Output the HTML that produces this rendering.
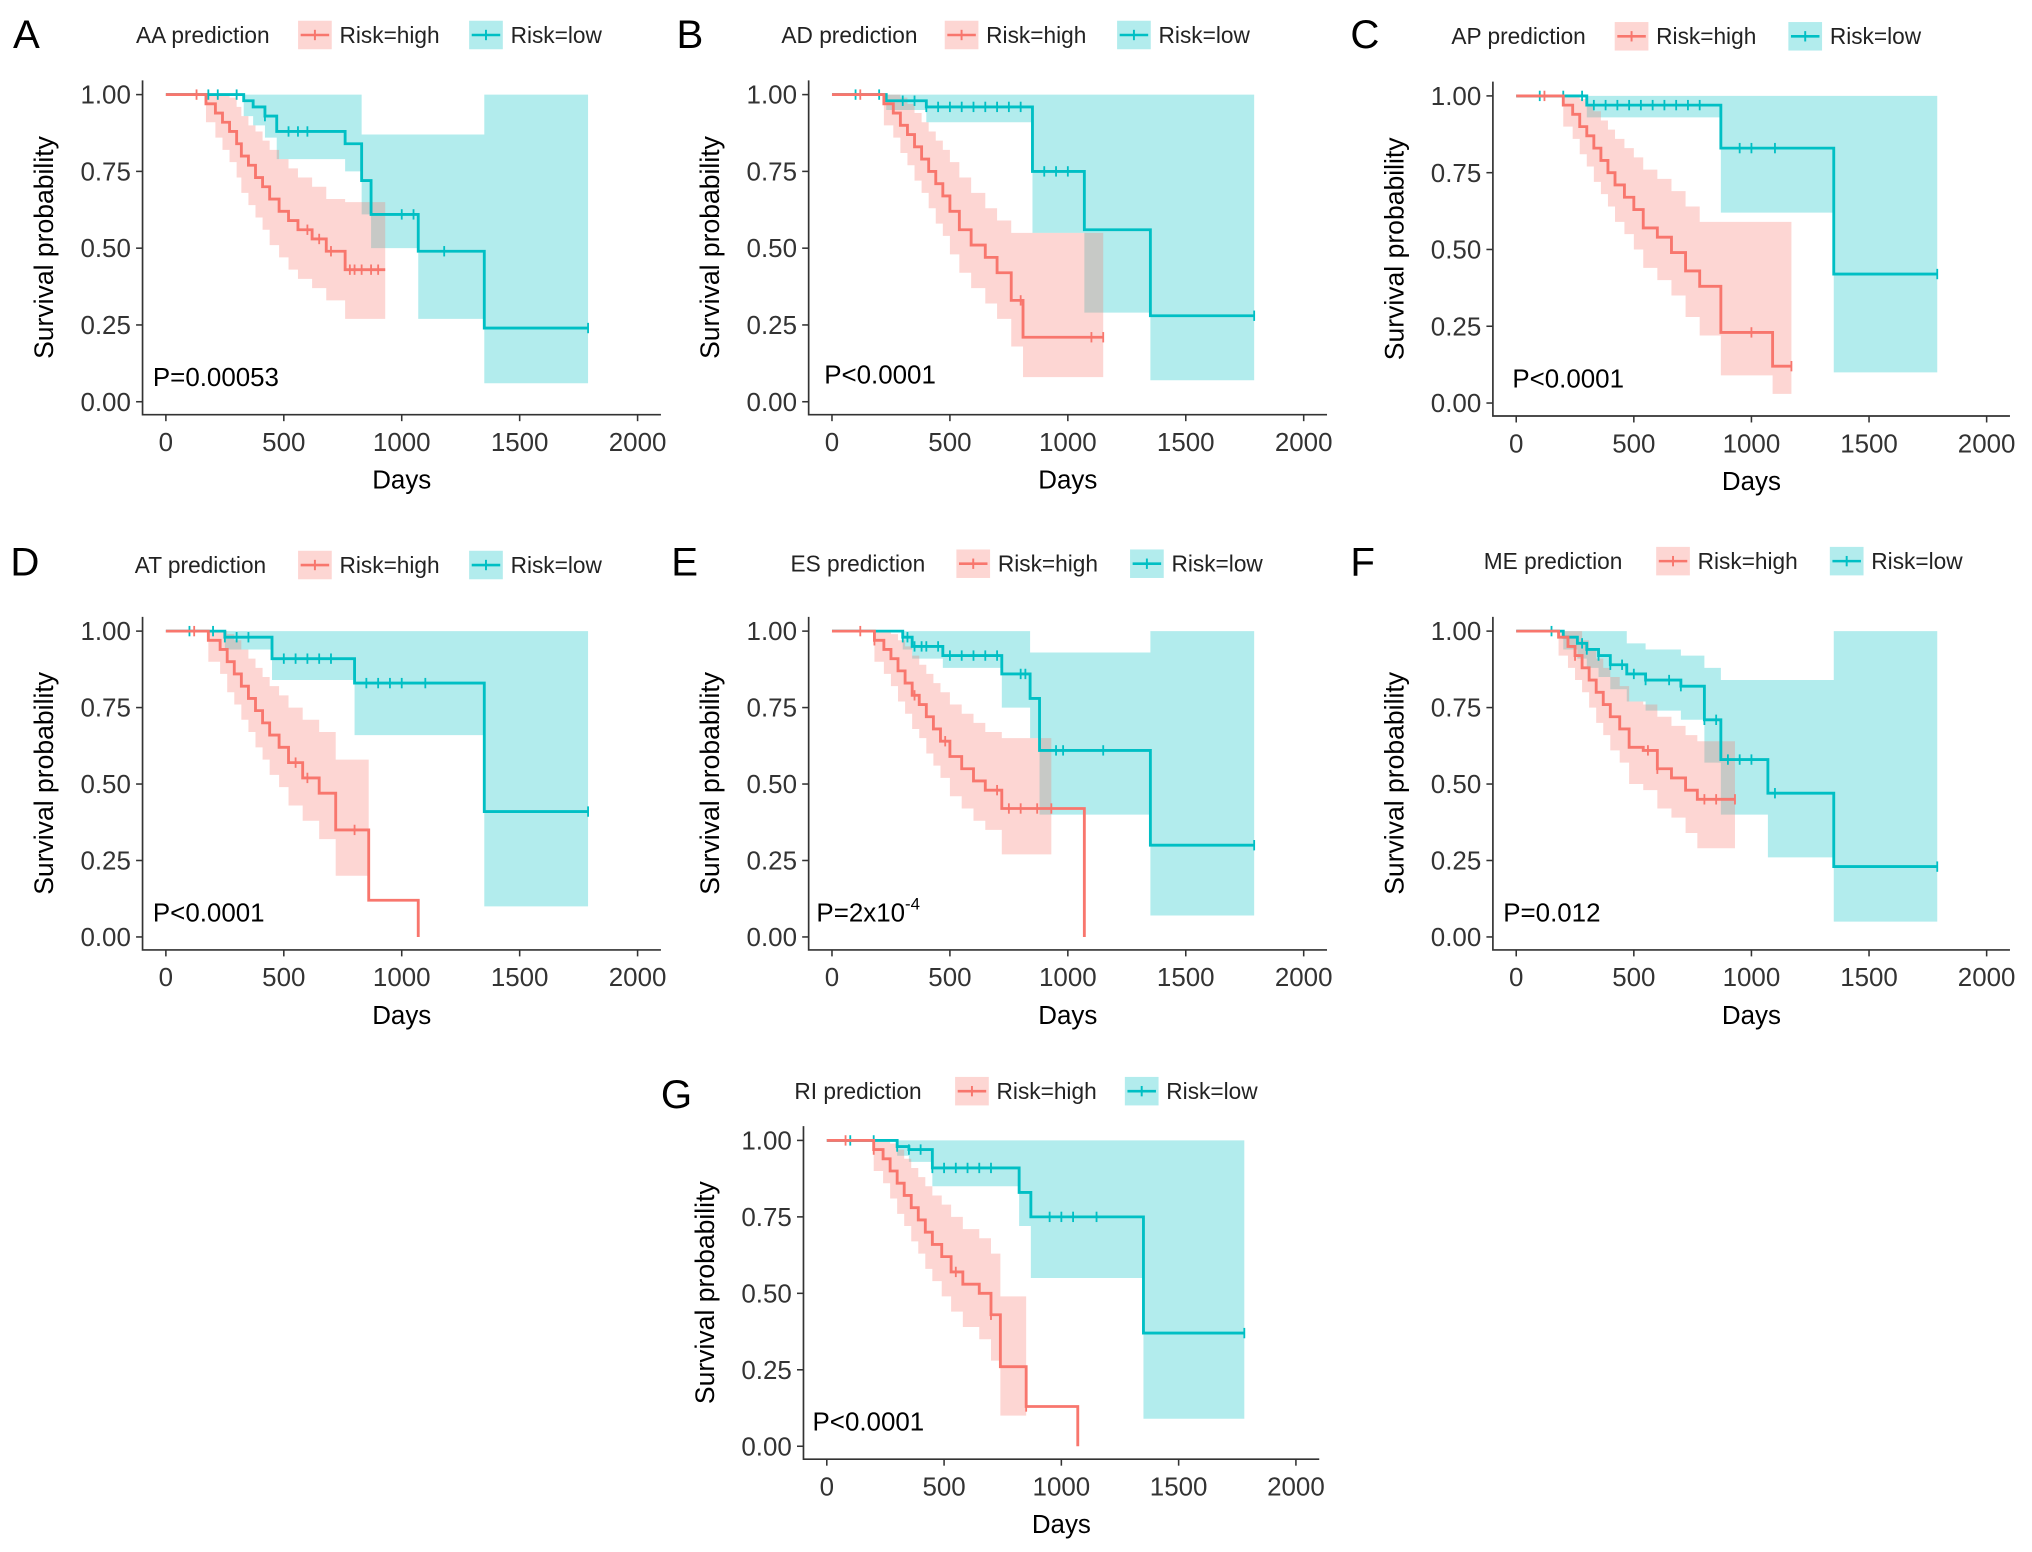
<!DOCTYPE html>
<html><head><meta charset="utf-8"><style>
html,body{margin:0;padding:0;background:#fff}
svg{display:block}
text{font-family:"Liberation Sans",sans-serif}
</style></head><body>
<svg id="fig" width="2032" height="1552" viewBox="0 0 1568 1197.6" xmlns="http://www.w3.org/2000/svg"></svg>
<script>
// ---------- data ----------
const aHighT=[0,170,210,240,270,300,320,350,380,410,440,480,520,560,620,680,760];
const aHighS=[1,.97,.94,.91,.88,.84,.8,.77,.73,.7,.66,.62,.59,.56,.53,.49,.43];
const aHighLo=[1,.91,.86,.82,.78,.73,.68,.64,.6,.56,.51,.47,.43,.4,.37,.33,.27];
const aHighHi=[1,1,1,1,.99,.96,.93,.9,.88,.85,.82,.79,.76,.73,.7,.66,.65];
const aHighC=[130,600,650,700,780,800,830,870,900];
const aLowT=[0,330,370,420,470,760,830,870,1070,1350];
const aLowS=[1,.98,.96,.93,.88,.84,.72,.61,.49,.24];
const aLowLo=[1,.93,.9,.86,.79,.75,.61,.5,.27,.06];
const aLowHi=[1,1,1,1,1,1,.87,.87,.87,1];
const aLowC=[180,220,300,420,520,560,600,1000,1050,1180,1790];

const bHighT=[0,220,260,290,320,350,380,410,440,470,500,540,590,650,700,760,810];
const bHighS=[1,.97,.94,.9,.87,.83,.79,.75,.71,.67,.62,.56,.51,.47,.42,.33,.21];
const bHighLo=[1,.9,.86,.81,.77,.72,.68,.63,.58,.54,.48,.42,.37,.32,.27,.18,.08];
const bHighHi=[1,1,1,.99,.97,.94,.91,.88,.85,.82,.78,.73,.68,.63,.59,.55,.55];
const bHighC=[120,800,1100,1150];
const bLowT=[0,230,400,850,1070,1350];
const bLowS=[1,.98,.96,.75,.56,.28];
const bLowLo=[1,.95,.91,.55,.29,.07];
const bLowHi=[1,1,1,1,1,1];
const bLowC=[100,200,300,350,400,450,500,550,600,650,700,750,800,900,950,1000,1790];

const cHighT=[0,200,240,270,300,330,360,390,420,460,500,540,600,660,720,780,870,1090];
const cHighS=[1,.97,.94,.9,.87,.83,.79,.75,.71,.67,.63,.57,.54,.49,.43,.38,.23,.12];
const cHighLo=[1,.9,.86,.81,.77,.72,.68,.64,.59,.55,.5,.44,.4,.35,.28,.22,.09,.03];
const cHighHi=[1,1,1,.99,.97,.95,.92,.89,.86,.83,.8,.76,.73,.69,.64,.59,.59,.59];
const cHighC=[120,1000,1170];
const cLowT=[0,300,870,1350];
const cLowS=[1,.97,.83,.42];
const cLowLo=[1,.93,.62,.1];
const cLowHi=[1,1,1,1];
const cLowC=[100,200,280,330,380,430,480,530,580,630,680,730,780,950,1000,1100,1790];

const dHighT=[0,180,230,260,290,320,350,380,410,440,480,520,580,650,720,860,1070];
const dHighS=[1,.97,.94,.9,.86,.82,.78,.74,.7,.66,.62,.57,.52,.47,.35,.12,0];
const dHighLo=[1,.9,.86,.8,.76,.71,.67,.62,.58,.53,.49,.43,.38,.32,.2,.12,0];
const dHighHi=[1,1,1,.99,.97,.94,.91,.88,.85,.82,.79,.75,.71,.67,.58,.12,0];
const dHighC=[120,550,600,800];
const dLowT=[0,250,450,800,1350];
const dLowS=[1,.98,.91,.83,.41];
const dLowLo=[1,.94,.84,.66,.1];
const dLowHi=[1,1,1,1,1];
const dLowC=[100,200,250,300,350,500,550,600,650,700,850,900,950,1000,1100,1790];

const eHighT=[0,180,220,250,280,310,340,370,400,430,460,500,550,600,650,720,930,1070];
const eHighS=[1,.97,.94,.91,.87,.83,.79,.76,.72,.68,.64,.59,.55,.51,.48,.42,.42,0];
const eHighLo=[1,.9,.86,.82,.77,.73,.68,.65,.6,.56,.52,.46,.42,.38,.35,.27,.42,0];
const eHighHi=[1,1,1,.99,.97,.95,.92,.89,.86,.83,.8,.76,.73,.7,.67,.65,.42,0];
const eHighC=[120,180,350,480,700,750,800,870,930];
const eLowT=[0,300,340,470,720,840,880,1350];
const eLowS=[1,.98,.95,.92,.86,.78,.61,.3];
const eLowLo=[1,.94,.91,.88,.75,.65,.4,.07];
const eLowHi=[1,1,1,1,1,.93,.93,1];
const eLowC=[300,320,350,380,400,450,500,550,600,650,700,800,820,950,980,1150,1790];

const fHighT=[0,180,220,250,280,310,340,370,400,440,480,540,600,660,720,770];
const fHighS=[1,.98,.95,.92,.88,.84,.8,.76,.72,.68,.62,.61,.55,.52,.48,.45];
const fHighLo=[1,.92,.88,.84,.8,.75,.7,.66,.61,.57,.5,.48,.42,.39,.34,.29];
const fHighHi=[1,1,1,1,.97,.94,.91,.88,.85,.82,.77,.76,.72,.69,.66,.64];
const fHighC=[250,560,600,800,850,930];
const fLowT=[0,200,260,300,350,400,470,550,700,800,870,1070,1350];
const fLowS=[1,.98,.96,.94,.92,.89,.86,.84,.82,.71,.58,.47,.23];
const fLowLo=[1,.94,.91,.88,.85,.81,.77,.74,.71,.57,.4,.26,.05];
const fLowHi=[1,1,1,1,1,1,.96,.94,.92,.88,.84,.84,1];
const fLowC=[150,280,300,350,400,450,500,550,650,700,800,850,900,950,1000,1100,1790];

const gHighT=[0,200,240,270,300,330,360,390,420,450,490,530,580,650,700,740,850,1070];
const gHighS=[1,.97,.94,.9,.86,.82,.78,.74,.7,.66,.62,.57,.53,.5,.43,.26,.13,0];
const gHighLo=[1,.9,.86,.81,.76,.72,.67,.63,.58,.54,.49,.44,.39,.35,.28,.1,.13,0];
const gHighHi=[1,1,1,.99,.97,.94,.91,.88,.85,.82,.79,.75,.71,.68,.63,.49,.13,0];
const gHighC=[80,200,550,700,850];
const gLowT=[0,300,350,450,820,870,1350];
const gLowS=[1,.98,.97,.91,.83,.75,.37];
const gLowLo=[1,.95,.93,.85,.72,.55,.09];
const gLowHi=[1,1,1,1,1,1,1];
const gLowC=[100,200,300,350,400,450,500,550,600,650,700,950,1000,1050,1150,1780];

const highEnds=[930,1150,1170,1070,1070,930,1070];
const lowEnds=[1790,1790,1790,1790,1790,1790,1780];
const xTicks=[0,500,1000,1500,2000];
const yTicks=[0,0.25,0.5,0.75,1];
const yTickLabels=["0.00","0.25","0.50","0.75","1.00"];
const pLabels=["P=0.00053","P<0.0001","P<0.0001","P<0.0001","P=2x10","P=0.012","P<0.0001"];
const titles=["AA prediction","AD prediction","AP prediction","AT prediction","ES prediction","ME prediction","RI prediction"];
const letters=["A","B","C","D","E","F","G"];

const panels=[
 {x0:128,x2:492,y1:73,y0:310,L:[10,37],lg:[105,230,362,27],p:[118,291],h:[aHighT,aHighS,aHighLo,aHighHi,aHighC],l:[aLowT,aLowS,aLowLo,aLowHi,aLowC]},
 {x0:642,x2:1006,y1:73,y0:310,L:[522,37],lg:[603,729,862,27],p:[636,289],h:[bHighT,bHighS,bHighLo,bHighHi,bHighC],l:[bLowT,bLowS,bLowLo,bLowHi,bLowC]},
 {x0:1170,x2:1533,y1:74,y0:311,L:[1042,37],lg:[1120,1246,1380,28],p:[1167,292],h:[cHighT,cHighS,cHighLo,cHighHi,cHighC],l:[cLowT,cLowS,cLowLo,cLowHi,cLowC]},
 {x0:128,x2:492,y1:487,y0:723,L:[8,444],lg:[104,230,362,436],p:[118,704],h:[dHighT,dHighS,dHighLo,dHighHi,dHighC],l:[dLowT,dLowS,dLowLo,dLowHi,dLowC]},
 {x0:642,x2:1006,y1:487,y0:723,L:[518,444],lg:[610,738,872,435],p:[630,704],h:[eHighT,eHighS,eHighLo,eHighHi,eHighC],l:[eLowT,eLowS,eLowLo,eLowHi,eLowC]},
 {x0:1170,x2:1533,y1:487,y0:723,L:[1042,444],lg:[1145,1278,1412,433],p:[1160,704],h:[fHighT,fHighS,fHighLo,fHighHi,fHighC],l:[fLowT,fLowS,fLowLo,fLowHi,fLowC]},
 {x0:638,x2:1000,y1:880,y0:1116,L:[510,855],lg:[613,737,868,842],p:[627,1097],h:[gHighT,gHighS,gHighLo,gHighHi,gHighC],l:[gLowT,gLowS,gLowLo,gLowHi,gLowC]}
];

const NS="http://www.w3.org/2000/svg";
const svg=document.getElementById('fig');
function mk(tag,attrs,parent){const e=document.createElementNS(NS,tag);for(const k in attrs)e.setAttribute(k,attrs[k]);(parent||svg).appendChild(e);return e;}
const RED="#F8766D",TEAL="#00BFC4";

function survAt(T,S,t){let v=S[0];for(let i=0;i<T.length;i++){if(T[i]<=t)v=S[i];}return v;}

panels.forEach((P,pi)=>{
  const g=mk('g',{});
  
  
  const sx=t=>P.x0+(P.x2-P.x0)*t/2000;
  const sy=v=>P.y0-(P.y0-P.y1)*v;
  const axX=P.x0-18, axY=P.y0+10, axR=sx(2000)+18, axT=P.y1-11;
  const L=mk('text',{x:P.L[0],y:P.L[1],'font-size':31,fill:'#000'},g);L.textContent=letters[pi];
  
  const lt=mk('text',{x:P.lg[0],y:P.lg[3]+6,'font-size':17.5,fill:'#222'},g);lt.textContent=titles[pi];
  
  [[P.lg[1],RED,'Risk=high','legend-entry-high'],[P.lg[2],TEAL,'Risk=low','legend-entry-low']].forEach(([lx,c,txt,nm])=>{
    const lg=mk('g',{},g);
    mk('rect',{x:lx,y:P.lg[3]-11,width:26,height:22,fill:c,'fill-opacity':0.3},lg);
    mk('line',{x1:lx+2,x2:lx+24,y1:P.lg[3],y2:P.lg[3],stroke:c,'stroke-width':2},lg);
    mk('line',{x1:lx+13,x2:lx+13,y1:P.lg[3]-4,y2:P.lg[3]+4,stroke:c,'stroke-width':1.5},lg);
    const t=mk('text',{x:lx+32,y:P.lg[3]+6,'font-size':17.5,fill:'#222'},lg);t.textContent=txt;
  });
  const series=[[P.l,lowEnds[pi],TEAL,'low'],[P.h,highEnds[pi],RED,'high']];
  series.forEach(([D,end,c,nm])=>{
    const [T,S,Lo,Hi]=D; const n=T.length;
    const ciEnd=i=>i<n-1?T[i+1]:end;
    let up='',dn=[];
    for(let i=0;i<n;i++){
      const a=sx(T[i]),b=sx(ciEnd(i));
      up+=(i===0?'M':'L')+a+','+sy(Hi[i])+'L'+b+','+sy(Hi[i]);
      dn.unshift('L'+b+','+sy(Lo[i])+'L'+a+','+sy(Lo[i]));
    }
    const ci=mk('path',{d:up+dn.join('')+'Z',fill:c,'fill-opacity':0.3,stroke:'none'},g);
    
  });
  series.forEach(([D,end,c,nm])=>{
    const [T,S,Lo,Hi,C]=D; const n=T.length;
    let d='M'+sx(T[0])+','+sy(S[0]);
    for(let i=1;i<n;i++){d+='L'+sx(T[i])+','+sy(S[i-1])+'L'+sx(T[i])+','+sy(S[i]);}
    d+='L'+sx(end)+','+sy(S[n-1]);
    const ln=mk('path',{d:d,fill:'none',stroke:c,'stroke-width':2.2},g);
    
    C.forEach(t=>{
      const v=survAt(T,S,t);
      const m=mk('line',{x1:sx(t),x2:sx(t),y1:sy(v)-4,y2:sy(v)+4,stroke:c,'stroke-width':1.4},g);
      
    });
  });
  const ax=mk('path',{d:`M${axX},${axT}L${axX},${axY}L${axR},${axY}`,fill:'none',stroke:'#333','stroke-width':1.3},g);
  
  xTicks.forEach(t=>{
    mk('line',{x1:sx(t),x2:sx(t),y1:axY,y2:axY+5,stroke:'#333','stroke-width':1.2},g);
    const tx=mk('text',{x:sx(t),y:axY+28,'font-size':20,'text-anchor':'middle',fill:'#333'},g);tx.textContent=t;
    
  });
  yTicks.forEach((v,i)=>{
    mk('line',{x1:axX-5,x2:axX,y1:sy(v),y2:sy(v),stroke:'#333','stroke-width':1.2},g);
    const tx=mk('text',{x:axX-9,y:sy(v)+7,'font-size':20,'text-anchor':'end',fill:'#333'},g);tx.textContent=yTickLabels[i];
    
  });
  const xt=mk('text',{x:sx(1000),y:axY+57,'font-size':20,'text-anchor':'middle',fill:'#000'},g);xt.textContent='Days';
  
  const cy=(axT+axY)/2;
  const yt=mk('text',{x:0,y:0,'font-size':20.5,'text-anchor':'middle',fill:'#000',transform:`translate(${axX-69},${cy}) rotate(-90)`},g);yt.textContent='Survival probability';
  
  const pt=mk('text',{x:P.p[0],y:P.p[1]+7,'font-size':20,fill:'#000'},g);pt.textContent=pLabels[pi];
  
  if(pi===4){const sup=mk('tspan',{dy:-9,'font-size':13},pt);sup.textContent='-4';}
});
</script>
</body></html>
